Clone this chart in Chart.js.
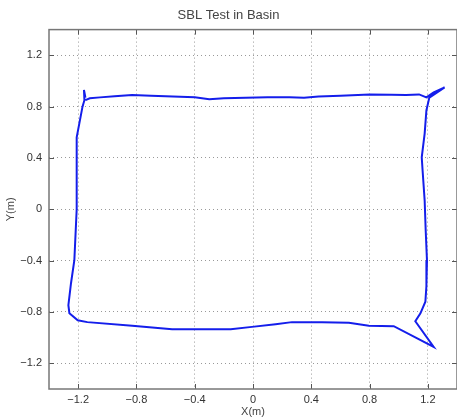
<!DOCTYPE html>
<html>
<head>
<meta charset="utf-8">
<title>SBL Test in Basin</title>
<script src="https://cdn.jsdelivr.net/npm/chart.js@4/dist/chart.umd.min.js"></script>
<style>
  html, body { margin: 0; padding: 0; background: #fff; }
  #wrap { width: 457px; height: 419px; }
</style>
</head>
<body>
<div id="wrap"><canvas id="chart" width="457" height="419"></canvas></div>
<script>
// trajectory of the vehicle (metres)
const pathX = [-1.15, -1.12, -1.05, -0.95, -0.83, -0.70, -0.55, -0.40, -0.30, -0.20, -0.05, 0.10, 0.25, 0.35, 0.45, 0.60, 0.80, 0.95, 1.05, 1.14, 1.19, 1.24, 1.315, 1.21, 1.19, 1.178, 1.158, 1.164, 1.178, 1.185, 1.194, 1.19, 1.183, 1.149, 1.114, 1.24, 0.966, 0.795, 0.658, 0.473, 0.267, 0.155, -0.007, -0.153, -0.324, -0.555, -0.829, -1.137, -1.203, -1.26, -1.267, -1.249, -1.226, -1.21, -1.21, -1.21, -1.17, -1.157, -1.16, -1.15];
const pathY = [0.85, 0.865, 0.872, 0.88, 0.89, 0.885, 0.878, 0.872, 0.857, 0.865, 0.87, 0.872, 0.872, 0.87, 0.878, 0.885, 0.895, 0.893, 0.89, 0.895, 0.872, 0.91, 0.95, 0.87, 0.77, 0.59, 0.405, 0.30, 0.07, -0.16, -0.40, -0.60, -0.72, -0.81, -0.872, -1.072, -0.911, -0.908, -0.884, -0.879, -0.879, -0.895, -0.916, -0.934, -0.934, -0.934, -0.908, -0.879, -0.864, -0.809, -0.747, -0.576, -0.397, 0.0, 0.22, 0.56, 0.80, 0.85, 0.93, 0.87];

const xTicks = [-1.2, -0.8, -0.4, 0, 0.4, 0.8, 1.2];
const yTicks = [-1.2, -0.8, -0.4, 0, 0.4, 0.8, 1.2];
const axisMin = -1.4;
const axisMax = 1.4;

const points = pathX.map((x, i) => ({ x: x, y: pathY[i] }));

function fmt(v) {
  return v < 0 ? '\u2212' + Math.abs(v) : String(v);
}

// matlab style box with inward tick marks
const boxPlugin = {
  id: 'box',
  afterDraw(chart) {
    const { ctx, chartArea: a, scales } = chart;
    ctx.save();
    ctx.strokeStyle = '#555';
    ctx.lineWidth = 1;
    xTicks.forEach(v => {
      const px = Math.round(scales.x.getPixelForValue(v)) + 0.5;
      ctx.beginPath();
      ctx.moveTo(px, a.top); ctx.lineTo(px, a.top + 5);
      ctx.moveTo(px, a.bottom); ctx.lineTo(px, a.bottom - 5);
      ctx.stroke();
    });
    yTicks.forEach(v => {
      const py = Math.round(scales.y.getPixelForValue(v)) + 0.5;
      ctx.beginPath();
      ctx.moveTo(a.left, py); ctx.lineTo(a.left + 5, py);
      ctx.moveTo(a.right, py); ctx.lineTo(a.right - 5, py);
      ctx.stroke();
    });
    ctx.strokeStyle = '#777';
    ctx.lineWidth = 1.5;
    ctx.strokeRect(a.left, a.top, a.right - a.left, a.bottom - a.top);
    ctx.restore();
  }
};

new Chart(document.getElementById('chart'), {
  type: 'scatter',
  data: {
    datasets: [{
      data: points,
      showLine: true,
      borderColor: 'rgb(20, 30, 235)',
      borderWidth: 2,
      pointRadius: 0,
      tension: 0
    }]
  },
  options: {
    responsive: false,
    animation: false,
    layout: { padding: 0 },
    plugins: {
      legend: { display: false },
      tooltip: { enabled: false },
      title: {
        display: true,
        text: 'SBL Test in Basin',
        color: '#444',
        font: { family: 'Liberation Sans', size: 13, weight: 'normal' },
        padding: { top: 8, bottom: 6 }
      }
    },
    scales: {
      x: {
        type: 'linear',
        min: axisMin,
        max: axisMax,
        afterBuildTicks: s => { s.ticks = xTicks.map(v => ({ value: v })); },
        afterFit: s => { s.height = 30; },
        grid: { color: '#999', drawTicks: false, lineWidth: 1 },
        border: { display: false, dash: [1, 3] },
        ticks: {
          color: '#333',
          padding: 4,
          maxRotation: 0,
          font: { family: 'Liberation Sans', size: 11 },
          callback: v => fmt(v)
        },
        title: {
          display: true,
          text: 'X(m)',
          color: '#444',
          font: { family: 'Liberation Sans', size: 11 },
          padding: { top: 0, bottom: 0 }
        }
      },
      y: {
        type: 'linear',
        min: axisMin,
        max: axisMax,
        afterBuildTicks: s => { s.ticks = yTicks.map(v => ({ value: v })); },
        afterFit: s => { s.width = 49; },
        grid: { color: '#999', drawTicks: false, lineWidth: 1 },
        border: { display: false, dash: [1, 3] },
        ticks: {
          color: '#333',
          padding: 7,
          font: { family: 'Liberation Sans', size: 11 },
          callback: v => fmt(v)
        },
        title: {
          display: true,
          text: 'Y(m)',
          color: '#444',
          font: { family: 'Liberation Sans', size: 11 },
          padding: { top: 4, bottom: 0 }
        }
      }
    }
  },
  plugins: [boxPlugin]
});
</script>
</body>
</html>
